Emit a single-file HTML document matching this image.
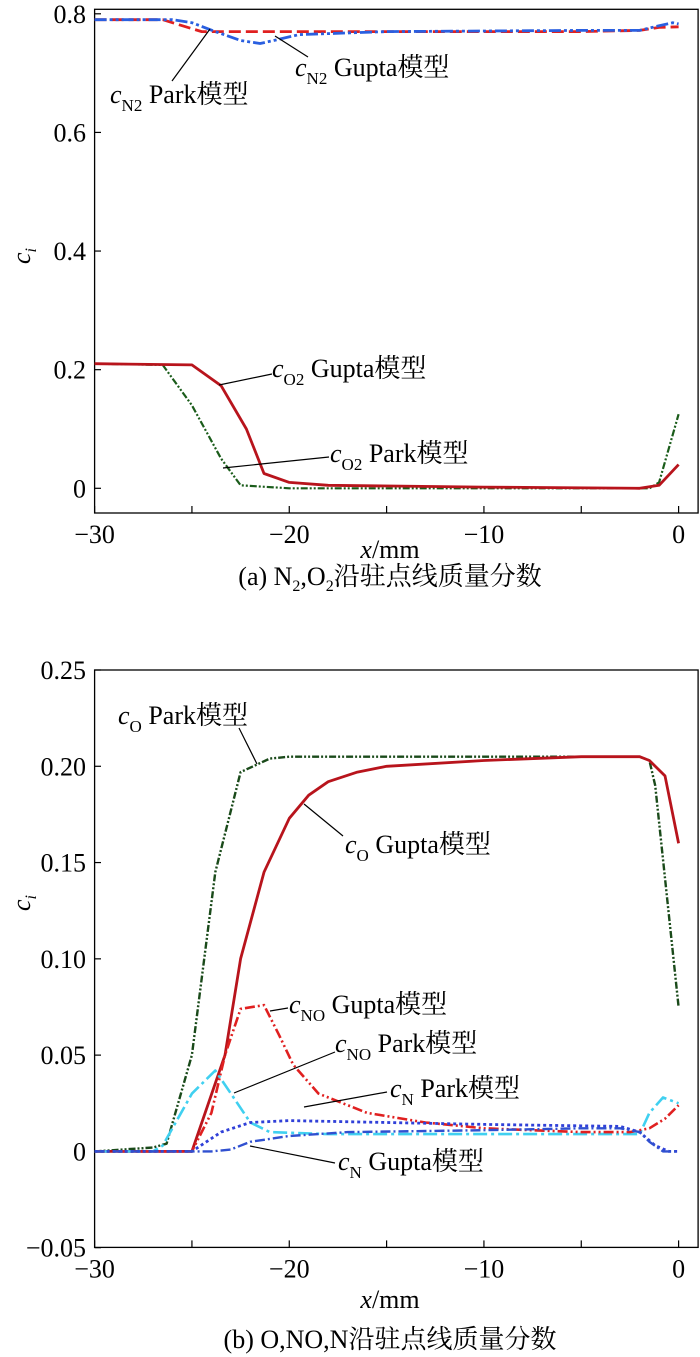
<!DOCTYPE html>
<html><head><meta charset="utf-8"><style>
body{margin:0;background:#fff}
svg{display:block}
text{font-family:"Liberation Serif","Noto Serif CJK SC",serif;fill:#000}
</style></head><body>
<svg id="s" width="700" height="1357" viewBox="0 0 700 1357"></svg>
<script>
// ---- data (a) ----
const xTicksA=[-30,-20,-10,0];
const yTicksA=[0,0.2,0.4,0.6,0.8];
const yTickLabelsA=["0","0.2","0.4","0.6","0.8"];
const n2ParkX=[-30,-26.5,-25.5,-24.5,-22,-15,-5,-2,-1,0];
const n2ParkY=[0.79,0.79,0.78,0.77,0.77,0.77,0.77,0.772,0.777,0.778];
const n2GuptaX=[-30,-26,-25,-23.8,-22.5,-21.5,-20.8,-19.5,-15,-5,-2,-1,-0.3,0];
const n2GuptaY=[0.79,0.79,0.785,0.77,0.755,0.75,0.755,0.765,0.77,0.772,0.772,0.78,0.785,0.783];
const o2GuptaX=[-30,-25,-23.5,-22.2,-21.3,-20,-18,-10,-2,-1,0];
const o2GuptaY=[0.21,0.208,0.173,0.1,0.025,0.01,0.005,0.002,0,0.005,0.04];
const o2ParkX=[-30,-26.5,-25,-23.5,-22.5,-20,-1.5,-1,0];
const o2ParkY=[0.21,0.208,0.14,0.05,0.005,0,0,0.01,0.125];
// ---- data (b) ----
const xTicksB=[-30,-20,-10,0];
const yTicksB=[-0.05,0,0.05,0.10,0.15,0.20,0.25];
const yTickLabelsB=["\u22120.05","0","0.05","0.10","0.15","0.20","0.25"];
const oParkX=[-30,-27,-26.3,-25,-23.8,-22.5,-21,-20,-2,-1.5,-1.2,0];
const oParkY=[0,0.002,0.004,0.05,0.145,0.197,0.204,0.205,0.205,0.203,0.19,0.075];
const oGuptaX=[-30,-25,-23.3,-22.5,-21.3,-20,-19,-18,-16.5,-15,-10,-5,-2,-1.5,-0.7,0];
const oGuptaY=[0,0,0.05,0.1,0.145,0.173,0.185,0.192,0.197,0.2,0.203,0.205,0.205,0.203,0.195,0.16];
const noGuptaX=[-30,-25,-24,-23.3,-22.5,-21.3,-20.5,-19.8,-18.5,-16,-13,-10,-5,-2.5,-1.5,-0.7,0];
const noGuptaY=[0,0,0.02,0.05,0.074,0.076,0.06,0.045,0.03,0.02,0.015,0.012,0.01,0.01,0.012,0.017,0.024];
const noParkX=[-30,-27,-26.5,-25,-23.8,-23,-22,-21,-18,-5,-2,-1.5,-0.8,0];
const noParkY=[0,0,0.003,0.03,0.042,0.03,0.015,0.01,0.009,0.009,0.009,0.02,0.028,0.025];
const nParkX=[-30,-25,-23.5,-22,-20,-15,-10,-3,-2,-1.2,-0.5,0];
const nParkY=[0,0,0.01,0.015,0.016,0.015,0.014,0.013,0.01,0.003,0,0];
const nGuptaX=[-30,-24,-23,-22,-20,-17,-10,-5,-3,-2,-1.5,-0.8,0];
const nGuptaY=[0,0,0.001,0.005,0.008,0.01,0.011,0.012,0.012,0.01,0.005,0,0];

const S=document.getElementById('s');const NS='http://www.w3.org/2000/svg';
function mk(t,a,txt){const e=document.createElementNS(NS,t);for(const k in a)e.setAttribute(k,a[k]);if(txt!==undefined)e.textContent=txt;S.appendChild(e);return e;}
function axes(x0,x1,xv0,xv1,y0,y1,yv0,yv1){return{sx:v=>x0+(v-xv0)/(xv1-xv0)*(x1-x0),sy:v=>y0+(v-yv0)/(yv1-yv0)*(y1-y0)};}
const A=axes(94.6,678.6,-30,0,488.3,13.8,0,0.8);
const B=axes(94.6,678.6,-30,0,1151.4,670,0,0.25);
function frame(top,bot,ax,xT,yT,yL,name){
  let r=mk('rect',{x:94.6,y:top,width:603.5,height:bot-top,fill:'none',stroke:'#000','stroke-width':1.3});
  
  for(let v=-30;v<=0;v+=5){let l=mk('line',{x1:ax.sx(v),x2:ax.sx(v),y1:bot,y2:bot-7,stroke:'#000','stroke-width':1.2});
    }
  xT.forEach(v=>{let t=mk('text',{x:ax.sx(v),y:bot+30,'font-size':26,'text-anchor':'middle'},v<0?'\u2212'+(-v):'0');
    });
  yT.forEach((v,i)=>{let l=mk('line',{x1:94.6,x2:101,y1:ax.sy(v),y2:ax.sy(v),stroke:'#000','stroke-width':1.2});
    
    let t=mk('text',{x:86,y:ax.sy(v)+9,'font-size':26,'text-anchor':'end'},yL[i]);
    });
}
frame(9.3,513,A,xTicksA,yTicksA,yTickLabelsA,'panel-a');
frame(670,1247.4,B,xTicksB,yTicksB,yTickLabelsB,'panel-b');
function line(ax,X,Y,col,dash,w,name){const d=X.map((x,i)=>(i?'L':'M')+ax.sx(x).toFixed(1)+','+ax.sy(Y[i]).toFixed(1)).join('');
  let p=mk('path',{d:d,fill:'none',stroke:col,'stroke-width':w,'stroke-dasharray':dash,'stroke-linejoin':'round'});
  }
line(A,o2ParkX,o2ParkY,'#1a5c1a','7 2 2 2 2 2',2.2,'o2-park-line');
line(A,o2GuptaX,o2GuptaY,'#b8141c','',2.8,'o2-gupta-line');
line(A,n2ParkX,n2ParkY,'#e02020','12 5',2.8,'n2-park-line');
line(A,n2GuptaX,n2GuptaY,'#2a5fe0','12 3 3 3 3 3',2.8,'n2-gupta-line');
line(B,oParkX,oParkY,'#1a4a1a','7 2 2 2 2 2',2.4,'o-park-line');
line(B,oGuptaX,oGuptaY,'#b8141c','',2.8,'o-gupta-line');
line(B,noParkX,noParkY,'#40d0f0','14 4 3 4',2.6,'no-park-line');
line(B,noGuptaX,noGuptaY,'#e02020','10 3 2 3 2 3',2.6,'no-gupta-line');
line(B,nParkX,nParkY,'#3040d8','3 3',2.8,'n-park-line');
line(B,nGuptaX,nGuptaY,'#3050d0','10 3 2 3',2.4,'n-gupta-line');
function lead(x1,y1,x2,y2){let l=mk('line',{x1,y1,x2,y2,stroke:'#000','stroke-width':1.2});}
function lab(x,y,sub,rest,name){let t=mk('text',{x,y,'font-size':26});
  t.innerHTML='<tspan font-style="italic">c</tspan><tspan font-size="17" dy="8">'+sub+'</tspan><tspan dy="-8"> '+rest+'</tspan>';}
lead(172,81,210,29);lab(110,103,'N2','Park模型','label-n2-park');
lead(308,57,275,36);lab(295,76,'N2','Gupta模型','label-n2-gupta');
lead(272,374,219,385);lab(272,377,'O2','Gupta模型','label-o2-gupta');
lead(329,457,223,468);lab(330,462,'O2','Park模型','label-o2-park');
lead(239,728,257,764);lab(118,724,'O','Park模型','label-o-park');
lead(343,836,304,804);lab(345,853,'O','Gupta模型','label-o-gupta');
lead(288,1008,270,1011);lab(289,1013,'NO','Gupta模型','label-no-gupta');
lead(335,1052,234,1093);lab(335,1052,'NO','Park模型','label-no-park');
lead(387,1092,304,1107);lab(390,1097,'N','Park模型','label-n-park');
lead(335,1163,250,1146);lab(338,1170,'N','Gupta模型','label-n-gupta');
function yt(y,name){let t=mk('text',{x:0,y:0,'font-size':26,transform:'translate(30,'+y+') rotate(-90)','text-anchor':'middle'});
  
  t.innerHTML='<tspan font-style="italic">c</tspan><tspan font-style="italic" font-size="16" dy="6">i</tspan>';}
yt(256,'panel-a-y-axis-title');yt(903,'panel-b-y-axis-title');
function xt(y,name){let t=mk('text',{x:390,y,'font-size':26,'text-anchor':'middle'});
  t.innerHTML='<tspan font-style="italic">x</tspan>/mm';}
xt(558,'panel-a-x-axis-title');xt(1308,'panel-b-x-axis-title');
let c1=mk('text',{x:390,y:585,'font-size':26,'text-anchor':'middle'});
c1.innerHTML='(a) N<tspan font-size="16" dy="6">2</tspan><tspan dy="-6">,O</tspan><tspan font-size="16" dy="6">2</tspan><tspan dy="-6">沿驻点线质量分数</tspan>';
let c2=mk('text',{x:390,y:1348,'font-size':26,'text-anchor':'middle'},'(b) O,NO,N沿驻点线质量分数');
</script>
</body></html>
